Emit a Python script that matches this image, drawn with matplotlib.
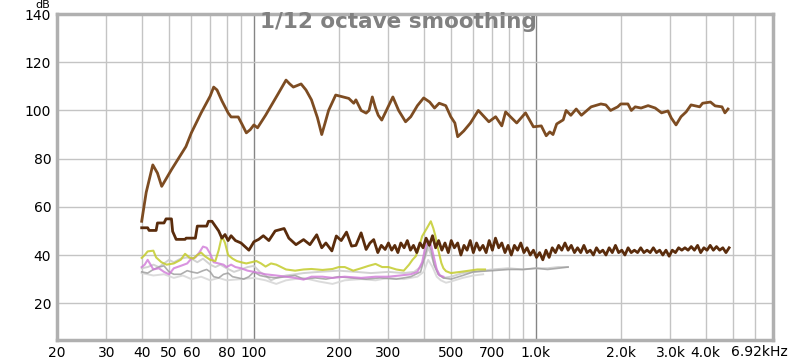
import matplotlib
matplotlib.use("Agg")
import matplotlib.pyplot as plt
from matplotlib.ticker import FixedLocator, NullLocator

# Main measurement (brown, smooth)
main_f = [40, 41.5, 43.8, 45.5, 47.1, 51, 57.4, 60, 65, 70, 72, 74, 77, 81, 83, 88, 91, 94, 97,
          100, 103, 110, 122, 130, 134, 138, 147, 153, 160, 168, 174, 179, 184, 195, 217, 226,
          230, 240, 250, 256, 263, 270, 276, 284, 295, 311, 326, 345, 360, 380, 400, 420, 437,
          454, 479, 499, 516, 528, 555, 586, 625, 681, 720, 757, 781, 820, 855, 919, 980, 1045,
          1088, 1120, 1150, 1185, 1250, 1280, 1330, 1390, 1450, 1570, 1700, 1770, 1840, 1950,
          2000, 2120, 2180, 2250, 2360, 2500, 2650, 2790, 2940, 3020, 3140, 3270, 3410, 3550,
          3810, 3900, 4160, 4320, 4570, 4680, 4800]
main_db = [54, 66, 77.4, 74, 68.5, 75.4, 85, 90.7, 99, 106, 109.7, 108.5, 104, 99, 97.3, 97.3,
           94, 90.7, 92, 94, 92.8, 98, 107, 112.6, 111, 109.7, 111, 108.5, 104.4, 97, 90, 95,
           100, 106.4, 105, 103, 104.4, 100, 98.9, 100, 105.6, 101, 98, 96, 100, 105.6, 100,
           95.3, 97.4, 102, 105.2, 103.5, 101, 103, 102, 97.4, 94.8, 89.1, 91.5, 94.8, 100,
           95.3, 97.4, 93.6, 99.4, 96.9, 94.8, 99, 93.2, 93.6, 89.5, 91.1, 90, 94.4, 96.1, 100,
           98, 100.6, 98, 101.5, 102.7, 102.3, 100, 101.5, 102.7, 102.7, 100, 101.5, 101, 102,
           101, 99, 99.8, 96.9, 94, 97.4, 99.4, 102.3, 101.5, 103, 103.5, 101.9, 101.5, 99,
           100.6]

# Noise floor (dark brown)
noise_f = [40, 42, 42.5, 45, 45.5, 48, 48.8, 51, 51.5, 53, 54, 57, 57.5, 62, 63, 68, 69, 71, 73,
           75, 77, 79, 81, 83, 86, 90, 96, 100, 104, 108, 113, 119, 128, 133, 141, 150, 158, 167,
           174, 180, 189, 196, 204, 213, 222, 230, 240, 250, 258, 266, 275, 283, 292,
           300, 308, 316, 324, 332, 341, 350, 359, 368, 378, 388, 398, 408, 419, 430, 441, 452,
           464, 476, 489, 501, 514, 528, 542, 556, 570, 585, 600, 616, 632, 649, 666, 683, 701,
           719, 738, 757, 777, 797, 818, 839, 861, 884, 907, 930, 955, 980, 1005, 1031, 1058,
           1086, 1114, 1143, 1173, 1204, 1235, 1268, 1301, 1335, 1370, 1405, 1442, 1480, 1518,
           1558, 1599, 1640, 1683, 1727, 1772, 1819, 1866, 1915, 1965, 2016, 2069, 2123, 2178,
           2235, 2294, 2354, 2415, 2478, 2543, 2609, 2677, 2747, 2819, 2893, 2968, 3046, 3125,
           3207, 3291, 3377, 3465, 3555, 3648, 3744, 3841, 3942, 4045, 4150, 4259, 4370, 4484,
           4601, 4721, 4844]
noise_db = [51.3, 51.3, 50.2, 50.2, 53.3, 53.3, 55, 55, 49.8, 46.5, 46.5, 46.5, 47, 47, 52, 52,
            54, 54, 52, 50, 47, 48.5, 46, 48, 46, 45, 42, 45.5, 46.5, 48, 46, 50, 51, 47, 44.3,
            46.4, 44.3, 48.4, 43, 45, 41.7, 47.9, 46, 49.5, 43.7, 44, 49.2, 42.3, 45, 46.4, 41,
            44, 42.3,
            45, 42, 44, 41, 45, 43, 46, 42, 44, 41, 45, 43, 47, 44, 48, 43, 46, 42, 45, 41, 46,
            43, 45, 40, 44, 42, 46, 41, 45, 42, 44, 41, 46, 42, 47, 43, 45, 41, 44, 40, 44, 42,
            45, 41, 43, 40, 42, 39, 41, 38, 42, 39, 43, 41, 44, 42, 45, 42, 44, 41, 43, 41, 44,
            41, 42, 40, 43, 41, 42, 40, 43, 41, 44, 41, 42, 40, 43, 41, 42, 41, 43, 41, 42, 41,
            43, 41, 42, 40, 42, 39.5, 42, 41, 43, 42, 43, 42, 43.5, 42, 44, 41, 43, 42, 44, 42,
            43.5, 42, 43, 41, 43]

# Other traces (thin, faded)
yel_f = [40, 41, 42, 44, 45, 47, 49, 52, 55, 57, 59, 61, 63, 65, 67, 70, 73, 75, 77, 79, 81, 84,
         87, 90, 94, 98, 102, 106, 110, 115, 120, 130, 140, 150, 160, 175, 190, 200, 210, 225,
         240, 255, 270, 285, 300, 320, 340, 355, 365, 375, 385, 395, 410, 424, 433, 440, 447,
         453, 462, 470, 480, 500, 540, 580, 620, 660]
yel_db = [38.8, 40, 41.5, 41.8, 39, 37, 36, 36.5, 38, 40.5, 39, 38.5, 40, 41, 39.5, 38, 37.5, 42,
          47.8, 45, 40, 38.5, 37.5, 37, 36.5, 37, 37.5, 36.5, 35.2, 36.5, 36, 34, 33.5, 34, 34.2,
          33.8, 34.2, 35, 35, 33.5, 34.5, 35.5, 36.3, 35, 35, 34, 33.5, 36, 38, 39.5, 43, 47.8,
          51, 54, 51, 48, 44, 41, 36.7, 34.5, 33.3, 32.5, 33, 33.5, 34, 34]

pink_f = [40, 41, 42, 43, 44, 46, 48, 50, 52, 55, 58, 60, 62, 64, 66, 68, 70, 72, 75, 78, 80, 83,
          86, 90, 95, 100, 110, 120, 130, 140, 150, 160, 175, 190, 210, 240, 270, 300, 330, 360,
          380, 395, 405, 415, 425, 435, 445, 455, 470]
pink_db = [35, 36, 38, 36, 34, 34.5, 33, 32, 34.5, 35.5, 36.5, 38.5, 39, 41, 43.5, 43, 40.5, 37,
           36.5, 36, 35, 36, 35, 34.5, 33.5, 33, 32, 31.5, 31, 30.5, 29.8, 31, 31, 30.5, 31, 30.5,
           31, 31, 31.5, 32, 33, 37, 43, 46, 44, 39, 34, 31.5, 31]

gray_f = [40, 42, 44, 46, 48, 50, 52, 55, 58, 60, 63, 66, 68, 70, 72, 75, 78, 81, 84, 88, 92, 96,
          100, 105, 110, 120, 130, 140, 150, 165, 180, 200, 220, 250, 280, 320, 360, 390, 405,
          415, 425, 435, 450, 470, 500, 550, 600, 700, 800, 900, 1000, 1100, 1200, 1300]
gray_db = [33, 32.5, 34, 35, 35.5, 33, 32, 32, 33.5, 33, 32.5, 33.5, 34, 33, 31, 30.5, 32, 32.5,
           31, 30.5, 30, 31, 33, 31.5, 31, 30.5, 31, 31.5, 30, 30.5, 30, 31, 30.5, 30, 30.5, 30,
           31, 33, 40, 45, 42, 36, 32, 30.5, 30, 31.5, 33, 33.5, 34, 34, 34.5, 34, 34.5, 35]

light1_f = [40, 42, 44, 46, 48, 50, 52, 55, 58, 60, 63, 66, 70, 73, 76, 80, 85, 90, 95, 100, 105,
            110, 115, 120, 130, 140, 150, 170, 200, 230, 260, 300, 340, 370, 390, 405, 415, 425,
            440, 455, 470, 500, 550, 600, 700, 800, 900, 1000, 1100, 1200, 1300]
light1_db = [34.5, 35, 36, 35, 36.5, 38, 37, 38.5, 39, 38.5, 37, 38.5, 36, 35, 36, 34.5, 33, 34,
             35, 35.5, 33, 31.5, 29.5, 30.5, 31.5, 32, 32.5, 33, 33.5, 33, 32.5, 33, 32.5, 33,
             35, 39, 43, 40, 35, 32, 30.5, 31, 32.5, 33, 34, 34.5, 34, 34.5, 34.5, 35, 35]

light2_f = [40, 44, 48, 52, 56, 60, 65, 70, 75, 80, 90, 100, 110, 120, 130, 150, 170, 190, 210,
            240, 270, 300, 340, 380, 400, 415, 430, 445, 460, 480, 500, 550, 600, 650]
light2_db = [32.5, 31.5, 32, 30.5, 31.5, 30, 31, 29.5, 30.5, 29.5, 30, 30.5, 29.5, 28, 29.5,
             30.5, 29, 28, 29.5, 30, 29.5, 30.5, 30, 31, 33, 38, 35, 31, 29.5, 28.5, 29, 30.5,
             31.5, 32]

x_ticks = [20, 30, 40, 50, 60, 80, 100, 200, 300, 500, 700, 1000, 2000, 3000, 4000]
x_labels = ['20', '30', '40', '50', '60', '80', '100', '200', '300', '500', '700',
            '1.0k', '2.0k', '3.0k', '4.0k']
y_ticks = [20, 40, 60, 80, 100, 120, 140]

fig = plt.figure(figsize=(8, 3.61), dpi=100)
ax = fig.add_axes([0.071, 0.058, 0.895, 0.903])
ax.set_xscale('log')
ax.set_xlim(20, 6920)
ax.set_ylim(4.7, 140)

# grid
grid_x = list(range(20, 100, 10)) + list(range(200, 1000, 100)) + list(range(2000, 7000, 1000))
for g in grid_x:
    ax.axvline(g, color='#c4c4c4', lw=1, zorder=0)
for g in [100, 1000]:
    ax.axvline(g, color='#858585', lw=1, zorder=0)
for g in y_ticks:
    ax.axhline(g, color='#c4c4c4', lw=1, zorder=0)

ax.plot(light2_f, light2_db, color='#d8d8d8', lw=1.4, alpha=0.9)
ax.plot(light1_f, light1_db, color='#cdcdcd', lw=1.4, alpha=0.9)
ax.plot(gray_f, gray_db, color='#9a9a9a', lw=1.2, alpha=0.8)
ax.plot(pink_f, pink_db, color='#d07ad8', lw=1.5, alpha=0.8)
ax.plot(yel_f, yel_db, color='#c4cc2c', lw=1.5, alpha=0.85)
ax.plot(noise_f, noise_db, color='#5a2c0c', lw=2)
ax.plot(main_f, main_db, color='#7d4c22', lw=2)

ax.xaxis.set_major_locator(FixedLocator(x_ticks))
ax.xaxis.set_minor_locator(NullLocator())
ax.set_xticklabels(x_labels)
ax.set_yticks(y_ticks)
ax.tick_params(length=0, labelsize=10, pad=4)
for s in ax.spines.values():
    s.set_color('#b0b0b0')
    s.set_linewidth(2.5)

fig.text(0.985, 0.025, '6.92kHz', ha='right', va='center', fontsize=10)
fig.text(43 / 800, 1 - 5 / 361, 'dB', ha='center', va='center', fontsize=8)
fig.text(398 / 800, 1 - 22 / 361, '1/12 octave smoothing', ha='center', va='center',
         fontsize=15.5, fontweight='bold', color='#808080')

fig.savefig('out.png', dpi=100)
